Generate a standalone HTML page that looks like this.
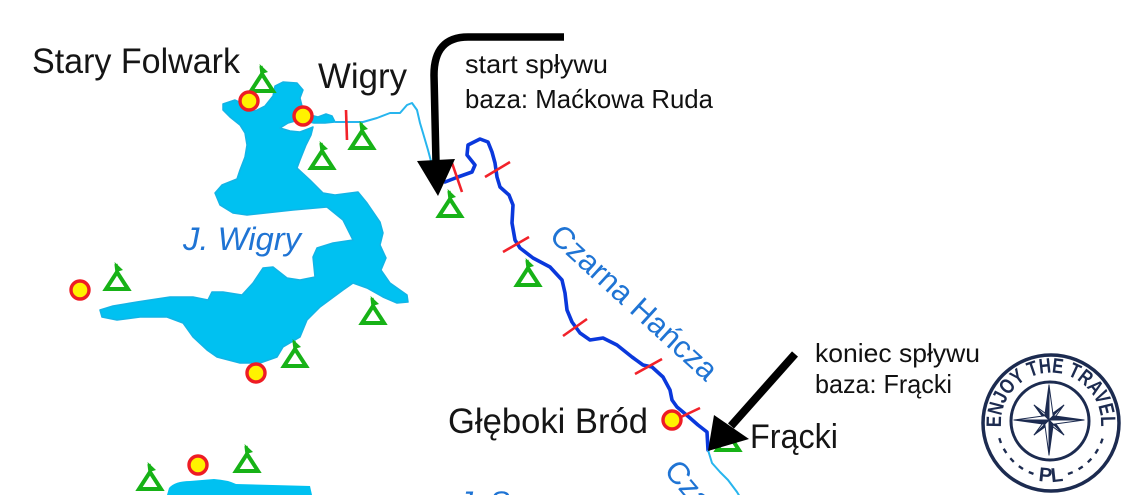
<!DOCTYPE html>
<html><head><meta charset="utf-8"><style>
html,body{margin:0;padding:0;background:#fff;width:1125px;height:495px;overflow:hidden;}
svg{display:block;}
text{font-family:"Liberation Sans",sans-serif;}
</style></head><body>
<svg width="1125" height="495" viewBox="0 0 1125 495" xmlns="http://www.w3.org/2000/svg" overflow="hidden">
<defs>
<g id="tent">
<path d="M-11,-2 L11,-2 L0,-19 Z" fill="none" stroke="#17b217" stroke-width="4" stroke-linejoin="miter"/>
<path d="M0,-19 L-1,-27" stroke="#17b217" stroke-width="3.2"/>
<path d="M-2.5,-29 L6,-21 L-0.5,-19 Z" fill="#17b217"/>
</g>
<g id="poi"><circle r="9" fill="#fff200" stroke="#ee1c24" stroke-width="3.4"/></g>
</defs>
<rect width="1125" height="495" fill="#fff"/>

<!-- Lake Wigry -->
<path d="M223,104 L235,100 L246,105 L255,111 L265,106 L273,96 L275,86 L283,82 L297,83 L303,90 L300,98 L302,106 L310,115 L318,117 L326,114 L332,116 L335,122 L325,123 L314,123 L305,121 L295,121 L288,123 L280,128 L290,131 L300,132 L308,129 L313,127 L311,135 L306,145 L300,160 L297,168 L310,180 L323,193 L335,195 L358,192 L367,203 L380,222 L383,233 L380,245 L386,258 L381,270 L390,283 L407,295 L408,302 L397,303 L383,297 L367,288 L353,283 L343,290 L320,307 L307,320 L300,337 L283,347 L277,357 L260,363 L240,363 L217,357 L207,350 L193,337 L183,323 L167,317 L140,317 L117,320 L102,317 L100,310 L113,306 L137,302 L150,300 L170,297 L193,297 L208,300 L212,292 L223,292 L242,295 L253,283 L263,268 L273,267 L287,278 L300,280 L315,277 L313,257 L317,248 L333,243 L353,240 L343,220 L327,207 L293,210 L247,215 L233,213 L220,205 L215,193 L222,185 L237,179 L240,170 L245,157 L247,145 L245,133 L240,125 L230,117 L223,110 Z" fill="#00c1f1" stroke="#12b4e6" stroke-width="1.5" stroke-linejoin="round"/>

<!-- bottom lake -->
<path d="M167,495 L169,488 Q175,481 190,481 L214,479 Q228,480 236,484 L310,486 L312,495 Z" fill="#00c1f1"/>

<!-- light river from Wigry -->
<polyline points="335,122 347,122 363,122 377,118 390,113 400,113 407,105 412,103 417,110 420,123 423,133 428,150 432,165 438,178 445,182" fill="none" stroke="#27b5ee" stroke-width="2" stroke-linejoin="round"/>
<!-- dark river -->
<polyline points="445,182 458,177 472,172 475,165 467,155 468,145 480,139 488,142 492,152 495,163 497,177 500,187 509,195 513,205 512,223 515,240 520,248 533,258 550,267 562,280 565,293 567,310 572,322 580,333 590,340 603,338 617,345 632,357 643,365 652,367 663,377 670,390 672,400 677,407 683,412 690,418 698,425 707,432 708,450" fill="none" stroke="#0a38dc" stroke-width="3.6" stroke-linejoin="round" stroke-linecap="round"/>
<polyline points="708,450 712,463 720,472 728,480 737,492 740,497" fill="none" stroke="#27b5ee" stroke-width="2" stroke-linejoin="round"/>

<!-- red ticks -->
<g stroke="#f2222a" stroke-width="2.6">
<line x1="346" y1="110" x2="347" y2="140"/>
<line x1="452" y1="163" x2="462" y2="192"/>
<line x1="485" y1="177" x2="510" y2="162"/>
<line x1="503" y1="252" x2="529" y2="237"/>
<line x1="563" y1="336" x2="587" y2="319"/>
<line x1="635" y1="374" x2="662" y2="359"/>
<line x1="681" y1="417" x2="700" y2="408"/>
</g>

<!-- tents -->
<use href="#tent" x="262" y="93"/>
<use href="#tent" x="362" y="150"/>
<use href="#tent" x="322" y="170"/>
<use href="#tent" x="450" y="218"/>
<use href="#tent" x="528" y="287"/>
<use href="#tent" x="117" y="291"/>
<use href="#tent" x="373" y="325"/>
<use href="#tent" x="295" y="368"/>
<use href="#tent" x="247" y="473"/>
<use href="#tent" x="150" y="491"/>
<use href="#tent" x="728" y="452"/>

<!-- circles -->
<use href="#poi" x="249" y="101"/>
<use href="#poi" x="303" y="116"/>
<use href="#poi" x="80" y="290"/>
<use href="#poi" x="256" y="373"/>
<use href="#poi" x="198" y="465"/>
<use href="#poi" x="672" y="420"/>

<!-- place names -->
<g fill="#151515">
<text x="32" y="73" font-size="35" textLength="208" lengthAdjust="spacingAndGlyphs">Stary Folwark</text>
<text x="318" y="88" font-size="35" textLength="89" lengthAdjust="spacingAndGlyphs">Wigry</text>
<text x="448" y="433" font-size="35" textLength="200" lengthAdjust="spacingAndGlyphs">Głęboki Bród</text>
<text x="750" y="448" font-size="34" textLength="88" lengthAdjust="spacingAndGlyphs">Frącki</text>
</g>
<g fill="#111">
<text x="465" y="73" font-size="26" textLength="143" lengthAdjust="spacingAndGlyphs">start spływu</text>
<text x="465" y="108" font-size="26" textLength="248" lengthAdjust="spacingAndGlyphs">baza: Maćkowa Ruda</text>
<text x="815" y="362" font-size="26" textLength="165" lengthAdjust="spacingAndGlyphs">koniec spływu</text>
<text x="815" y="393" font-size="26" textLength="137" lengthAdjust="spacingAndGlyphs">baza: Frącki</text>
</g>

<!-- blue labels -->
<g fill="#1f74d4">
<text x="183" y="250" font-size="32" font-style="italic" textLength="118" lengthAdjust="spacingAndGlyphs">J. Wigry</text>
<text transform="translate(548,238) rotate(42.4)" font-size="31" textLength="214" lengthAdjust="spacingAndGlyphs">Czarna Hańcza</text>
<text transform="translate(663,471) rotate(50)" font-size="31" textLength="214" lengthAdjust="spacingAndGlyphs">Czarna Hańcza</text>
<text x="458" y="512" font-size="30" font-style="italic">J. Serwy</text>
</g>

<!-- arrows -->
<path d="M564,37 L468,37 Q434,37 434,75 L436,163" stroke="#000" stroke-width="7.5" fill="none"/>
<polygon points="417,161 455,159 438,196" fill="#000"/>
<line x1="795" y1="354" x2="731" y2="426" stroke="#000" stroke-width="8"/>
<polygon points="714,415 749,439 708,451" fill="#000"/>

<!-- logo -->
<g>
<circle cx="1051" cy="423" r="68" fill="#fff" stroke="#1c2b50" stroke-width="3.5"/>
<circle cx="1050" cy="421" r="39" fill="none" stroke="#1c2b50" stroke-width="3"/>
<path id="arcTop" d="M1001.3,428.2 A50,50 0 1 1 1100.7,428.2" fill="none"/>
<path id="arcBot" d="M992.9,433.2 A59,59 0 0 0 1109.1,433.2" fill="none"/>
<text font-size="21" font-weight="bold" fill="#1c2b50"><textPath href="#arcTop" startOffset="1" textLength="165" lengthAdjust="spacingAndGlyphs">ENJOY THE TRAVEL</textPath></text>
<text font-size="20" font-weight="bold" fill="#1c2b50"><textPath href="#arcBot" startOffset="6" textLength="152" lengthAdjust="spacing">- - - - - PL - - - - -</textPath></text>
<!-- compass star -->
<g stroke="#1c2b50" stroke-width="1" stroke-linejoin="round">
<polygon points="1049,420 1063.8,405.2 1049,416" fill="#1c2b50"/>
<polygon points="1049,420 1063.8,405.2 1053,420" fill="#fff"/>
<polygon points="1049,420 1063.8,434.8 1053,420" fill="#1c2b50"/>
<polygon points="1049,420 1063.8,434.8 1049,424" fill="#fff"/>
<polygon points="1049,420 1034.2,434.8 1049,424" fill="#1c2b50"/>
<polygon points="1049,420 1034.2,434.8 1045,420" fill="#fff"/>
<polygon points="1049,420 1034.2,405.2 1045,420" fill="#1c2b50"/>
<polygon points="1049,420 1034.2,405.2 1049,416" fill="#fff"/>
<polygon points="1049,420 1049,385 1044.8,415.8" fill="#1c2b50"/>
<polygon points="1049,420 1049,385 1053.2,415.8" fill="#fff"/>
<polygon points="1049,420 1084,420 1053.2,415.8" fill="#1c2b50"/>
<polygon points="1049,420 1084,420 1053.2,424.2" fill="#fff"/>
<polygon points="1049,420 1049,455 1053.2,424.2" fill="#1c2b50"/>
<polygon points="1049,420 1049,455 1044.8,424.2" fill="#fff"/>
<polygon points="1049,420 1014,420 1044.8,424.2" fill="#1c2b50"/>
<polygon points="1049,420 1014,420 1044.8,415.8" fill="#fff"/>
</g>
</g>
</svg>
</body></html>
